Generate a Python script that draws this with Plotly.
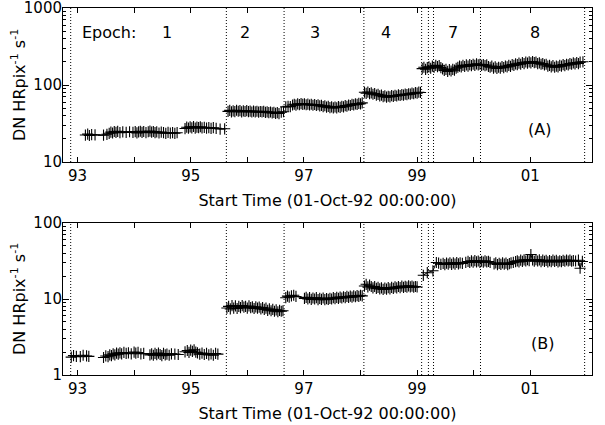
import plotly.graph_objects as go

# ---------------- data (years since 1900, count rates) ----------------
# Panel A
a1a_t = [93.14,93.18,93.21,93.25,93.31,93.46,93.52,93.56,93.59,93.62,93.65,93.68,93.71,93.75,93.80,93.86,93.92,93.98,94.02,94.05,
         94.08,94.11,94.14,94.17,94.21,94.25,94.28,94.31,94.34,94.37,94.40,94.44,94.48,94.52,94.56,94.60,94.64,94.68,94.72,94.76]
a1a_v = [22.4,23.0,22.1,22.7,22.5,22.3,22.9,23.6,24.4,23.8,24.9,24.2,25.0,24.1,24.6,24.3,24.7,24.2,24.8,23.9,
         24.6,25.1,24.3,24.9,24.0,24.7,25.2,24.4,24.9,24.1,24.6,23.8,24.4,24.0,23.6,24.2,23.7,24.1,23.6,24.0]
a1b_t = [94.90,94.93,94.96,94.99,95.02,95.05,95.08,95.11,95.14,95.17,95.20,95.24,95.28,95.32,95.36,95.40,95.45,95.52,95.60]
a1b_v = [27.2,28.3,27.5,28.6,27.8,28.9,27.6,28.4,27.9,28.7,27.7,28.2,27.6,28.0,27.4,27.9,27.3,26.8,27.0]
a2_t = [95.66,95.69,95.72,95.75,95.78,95.81,95.84,95.87,95.90,95.93,95.96,95.99,96.02,96.05,96.08,96.11,96.14,
        96.17,96.20,96.23,96.26,96.29,96.32,96.35,96.38,96.41,96.44,96.47,96.50,96.53,96.56,96.60,96.64]
a2_v = [45.5,46.8,44.9,46.2,45.1,47.0,45.6,46.5,44.8,46.0,45.3,46.4,45.0,45.9,44.6,45.8,44.9,
        45.6,44.4,45.3,44.7,45.5,44.2,44.9,43.8,44.6,43.5,44.2,42.8,43.9,42.6,44.3,45.0]
a3_t = [96.68,96.72,96.76,96.80,96.83,96.86,96.89,96.92,96.95,96.98,97.01,97.04,97.07,97.10,97.13,97.16,97.19,97.22,97.25,97.28,
        97.31,97.34,97.37,97.40,97.43,97.46,97.49,97.52,97.55,97.58,97.61,97.64,97.67,97.70,97.73,97.76,97.79,97.82,97.85,97.88,
        97.91,97.94,97.97,98.00,98.03]
a3_v = [52.0,53.0,52.4,55.0,56.2,54.8,56.8,55.6,57.2,56.0,57.0,55.4,56.5,55.0,56.2,54.6,55.8,54.2,55.4,53.6,
        54.5,52.4,53.8,51.6,52.8,50.8,52.0,50.4,51.8,50.6,52.4,51.2,53.0,52.0,54.0,53.0,55.0,54.2,56.0,55.2,
        56.8,56.0,57.6,57.0,58.6]
a4_t = [98.07,98.10,98.13,98.16,98.19,98.22,98.25,98.28,98.31,98.34,98.37,98.40,98.43,98.46,98.49,98.52,98.55,
        98.58,98.61,98.64,98.67,98.70,98.73,98.76,98.79,98.82,98.85,98.88,98.91,98.94,98.97,99.00,99.03,99.06]
a4_v = [80.5,78.0,81.0,77.2,79.0,75.8,77.6,74.0,75.6,72.4,73.8,70.6,72.2,69.6,71.4,70.2,72.6,
        71.0,73.2,72.0,74.4,73.0,75.2,74.0,76.2,75.0,77.0,76.2,78.4,77.0,79.4,78.2,80.6,80.0]
a5_t = [99.09,99.12,99.15,99.18,99.21,99.24,99.27,99.30,99.33,99.36,99.39,99.42,99.45,99.48,99.51,99.54,99.57,99.60,99.63,99.66,
        99.69,99.72,99.75,99.78,99.81,99.84,99.87,99.90,99.93,99.96,99.99,100.02,100.05,100.08,100.11,100.14,100.17,100.20,100.23,100.26,
        100.29,100.32,100.35,100.38,100.41,100.44,100.47,100.50,100.53,100.56,100.59,100.62,100.65,100.68,100.71,100.74,100.77,100.80,100.83,100.86,
        100.89,100.92,100.95,100.98,101.01,101.04,101.07,101.10,101.13,101.16,101.19,101.22,101.25,101.28,101.31,101.34,101.37,101.40,101.43,101.46,
        101.49,101.52,101.55,101.58,101.61,101.64,101.67,101.70,101.73,101.76,101.79,101.82,101.85,101.88,101.93]
a5_v = [163,170,160,168,172,165,176,170,180,173,178,168,162,155,160,150,158,152,160,156,
        165,170,176,172,180,174,182,176,184,178,186,180,188,182,186,180,184,178,182,174,
        170,176,166,172,164,170,166,174,168,176,172,180,175,184,180,188,184,192,186,196,
        190,199,192,200,194,202,195,198,190,194,186,190,182,186,176,180,172,178,170,176,
        172,180,176,184,178,186,182,190,186,194,188,196,190,198,200]

# Panel B
b1a_t = [92.89,92.93,92.98,93.05,93.10,93.16,93.20]
b1a_v = [1.72,1.80,1.76,1.74,1.82,1.78,1.76]
b1b_t = [93.46,93.50,93.54,93.57,93.60,93.63,93.66,93.69,93.72,93.75,93.78,93.82,93.86,93.90,93.95,94.00,94.03,94.07,94.12,94.17,
         94.28,94.31,94.34,94.37,94.40,94.43,94.46,94.49,94.52,94.55,94.58,94.62,94.66,94.72,94.78]
b1b_v = [1.70,1.78,1.74,1.84,1.80,1.90,1.84,1.94,1.88,1.96,1.90,1.98,1.92,1.95,1.90,2.00,1.94,1.98,1.90,1.92,
         1.84,1.90,1.82,1.92,1.85,1.94,1.86,1.80,1.92,1.84,1.88,1.82,1.90,1.88,1.86]
b1c_t = [94.90,94.94,94.97,95.00,95.03,95.06,95.09,95.12,95.16,95.20,95.24,95.28,95.32,95.36,95.40,95.44,95.48]
b1c_v = [2.02,2.10,1.98,2.12,2.04,2.14,2.00,1.96,1.88,1.94,1.86,1.92,1.84,1.90,1.82,1.92,1.88]
b2_t = [95.64,95.67,95.70,95.73,95.76,95.79,95.82,95.85,95.88,95.91,95.94,95.97,96.00,96.03,96.06,96.09,96.12,
        96.15,96.18,96.21,96.24,96.27,96.30,96.33,96.36,96.39,96.42,96.45,96.48,96.51,96.54,96.57,96.60,96.63]
b2_v = [7.6,8.0,7.4,8.2,7.6,8.1,7.5,8.0,7.7,8.2,7.8,8.0,7.6,8.1,7.7,7.9,7.5,
        7.9,7.6,7.8,7.4,7.7,7.3,7.6,7.1,7.4,7.0,7.3,6.9,7.2,6.8,7.1,6.9,7.0]
b3_t = [96.68,96.71,96.74,96.78,96.82,96.86,97.01,97.04,97.07,97.10,97.13,97.16,97.19,97.22,97.25,97.28,97.31,97.34,97.37,97.40,
        97.43,97.46,97.49,97.52,97.55,97.58,97.61,97.64,97.67,97.70,97.73,97.76,97.79,97.82,97.85,97.88,97.91,97.94,97.97,98.00,98.03]
b3_v = [10.4,10.9,10.6,11.0,11.2,10.8,10.2,10.5,10.0,10.4,9.9,10.3,10.0,10.4,9.8,10.2,9.9,10.3,9.8,10.1,
        9.9,10.2,10.0,10.4,10.1,10.5,10.2,10.6,10.3,10.7,10.4,10.8,10.5,10.9,10.6,11.0,10.7,11.1,10.8,11.2,11.0]
b4_t = [98.07,98.10,98.13,98.16,98.19,98.22,98.25,98.28,98.31,98.34,98.37,98.40,98.43,98.46,98.49,98.52,
        98.55,98.58,98.61,98.64,98.67,98.70,98.73,98.76,98.79,98.82,98.85,98.88,98.91,98.94,98.97,99.00]
b4_v = [14.8,15.6,14.4,15.2,14.6,14.0,14.6,13.8,14.2,13.6,14.0,13.4,13.9,13.5,14.1,13.6,
        14.2,13.8,14.4,14.0,14.6,14.1,14.8,14.2,14.7,14.3,14.9,14.4,14.8,14.3,14.6,14.4]
b5_t = [99.11,99.18,99.28,99.34,99.38,99.42,99.46,99.49,99.52,99.55,99.58,99.61,99.64,99.67,99.70,99.73,99.76,99.80,
        99.86,99.90,99.93,99.96,99.99,100.02,100.05,100.08,100.11,100.14,100.17,100.20,100.23,100.26,100.29,
        100.36,100.39,100.42,100.45,100.48,100.51,100.54,100.57,100.60,100.63,100.66,100.70,100.74,100.77,100.80,100.83,100.86,
        100.89,100.92,100.95,100.98,101.01,101.04,101.07,101.10,101.13,101.16,101.19,101.22,101.25,101.28,101.31,101.34,
        101.37,101.40,101.43,101.46,101.49,101.52,101.55,101.58,101.61,101.64,101.67,101.70,101.73,101.76,101.80,101.85,101.88,101.92]
b5_v = [20.5,22.2,23.5,30.2,29.6,28.6,29.4,28.4,29.6,28.8,30.0,28.6,29.8,28.8,30.2,29.0,29.8,29.4,
        30.4,31.2,30.2,31.8,30.6,32.0,30.8,31.6,30.4,31.4,30.6,31.8,30.8,31.2,30.4,
        29.0,29.8,28.4,29.4,28.6,29.8,28.8,29.6,28.4,29.2,29.8,30.4,31.0,31.8,30.8,32.4,31.2,
        32.8,31.6,33.0,32.0,38.5,32.6,31.4,33.0,31.6,32.8,31.0,32.4,31.2,32.2,30.8,32.0,
        31.0,32.4,31.2,32.2,30.8,31.8,31.0,32.2,31.4,32.6,31.6,32.4,31.4,32.0,31.6,32.4,25.4,31.2]

epoch_bounds = [92.88, 95.63, 96.65, 98.06, 99.08, 99.20, 99.29, 100.12, 101.96]
epoch_labels = ["1", "2", "3", "4", "7", "8"]
year_ticks = [93, 95, 97, 99, 101]
year_labels = ["93", "95", "97", "99", "01"]
year_minor = [94, 96, 98, 100]
a_yticks = [10, 100, 1000]
a_ylabels = ["10", "100", "1000"]
b_yticks = [1, 10, 100]
b_ylabels = ["1", "10", "100"]
x_title = "Start Time (01-Oct-92 00:00:00)"
y_title = "DN HRpix<sup>-1</sup> s<sup>-1</sup>"

# ---------------- layout constants ----------------
FONT = "DejaVu Sans"
W, H = 605, 425
ML, MR, MT, MB = 63, 13, 8, 50
plot_h = H - MT - MB
plot_w = W - ML - MR
def dom(top_px, bot_px):
    return [(H - MB - bot_px) / plot_h, (H - MB - top_px) / plot_h]

epoch_label_x = [94.58, 95.96, 97.20, 98.45, 99.64, 101.08]


def join(segs):
    xs, ys = [], []
    for t, v in segs:
        if xs:
            xs.append(None); ys.append(None)
        xs += t; ys += v
    return xs, ys

ax_, ay_ = join([(a1a_t, a1a_v), (a1b_t, a1b_v), (a2_t, a2_v), (a3_t, a3_v), (a4_t, a4_v), (a5_t, a5_v)])
bx_, by_ = join([(b1a_t, b1a_v), (b1b_t, b1b_v), (b1c_t, b1c_v), (b2_t, b2_v), (b3_t, b3_v), (b4_t, b4_v), (b5_t, b5_v)])

fig = go.Figure()
mk = dict(symbol="cross-thin", size=8, color="black", line=dict(color="black", width=1.1))
fig.add_trace(go.Scatter(x=ax_, y=ay_, mode="lines+markers", marker=mk, hoverinfo="skip",
                         line=dict(color="black", width=1), xaxis="x", yaxis="y", showlegend=False))
fig.add_trace(go.Scatter(x=bx_, y=by_, mode="lines+markers", marker=mk, hoverinfo="skip",
                         line=dict(color="black", width=1), xaxis="x2", yaxis="y2", showlegend=False))

xr = [92.744, 102.09]
xcommon = dict(range=xr, tickmode="array", tickvals=year_ticks, ticktext=year_labels, automargin=False,
               ticks="inside", ticklen=5, tickcolor="black", showline=True, linecolor="black",
               linewidth=1, mirror="allticks", showgrid=False, zeroline=False, ticklabelstandoff=0,
               ticklabeloverflow="allow",
               minor=dict(tickmode="array", tickvals=year_minor, ticks="inside", ticklen=5, tickcolor="black", showgrid=False),
               tickfont=dict(family=FONT, size=15, color="black"),
               title=dict(text=x_title, font=dict(family=FONT, size=16, color="black"), standoff=10))

def minor_vals(decades):
    out = []
    for d in decades:
        out += [d * k for k in range(2, 10)]
    return out

ycommon = dict(type="log", ticks="inside", ticklen=6, tickcolor="black", showline=True, linecolor="black",
               linewidth=1, mirror="allticks", showgrid=False, zeroline=False, tickmode="array", automargin=False,
               ticklabelstandoff=-3, ticklabeloverflow="allow",
               tickfont=dict(family=FONT, size=15, color="black"))

fig.update_layout(
    width=W, height=H, margin=dict(l=ML, r=MR, t=MT, b=MB, autoexpand=False),
    paper_bgcolor="white", plot_bgcolor="white", hovermode=False,
    font=dict(family=FONT, color="black"),
    xaxis=dict(**xcommon, domain=[0, 1], anchor="y"),
    yaxis=dict(**ycommon, range=[1, 3], tickvals=a_yticks, ticktext=a_ylabels, domain=dom(8, 162), anchor="x",
               minor=dict(tickmode="array", tickvals=minor_vals([10, 100]), ticks="inside", ticklen=3, tickcolor="black", showgrid=False)),
    xaxis2=dict(**xcommon, domain=[0, 1], anchor="y2"),
    yaxis2=dict(**ycommon, range=[0, 2], tickvals=b_yticks, ticktext=b_ylabels, domain=dom(223, 375), anchor="x2",
                minor=dict(tickmode="array", tickvals=minor_vals([1, 10]), ticks="inside", ticklen=3, tickcolor="black", showgrid=False)),
)

shapes = []
for xb in epoch_bounds:
    for yr, xr_ in (("y domain", "x"), ("y2 domain", "x2")):
        shapes.append(dict(type="line", xref=xr_, yref=yr, x0=xb, x1=xb, y0=0, y1=1,
                           line=dict(color="black", width=1, dash="1px,2px")))
fig.update_layout(shapes=shapes)

ytitle_x = (18 - ML) / plot_w
ann = [dict(text="Epoch:", x=93.04, y=0.838, xref="x", yref="y domain", xanchor="left", yanchor="middle",
            showarrow=False, font=dict(family=FONT, size=16, color="black"))]
for lab, lx in zip(epoch_labels, epoch_label_x):
    ann.append(dict(text=lab, x=lx, y=0.838, xref="x", yref="y domain", xanchor="center", yanchor="middle",
                    showarrow=False, font=dict(family=FONT, size=16, color="black")))
ann.append(dict(text="(A)", x=101.17, y=0.21, xref="x", yref="y domain", showarrow=False,
                xanchor="center", yanchor="middle", font=dict(family=FONT, size=16, color="black")))
ann.append(dict(text="(B)", x=101.21, y=0.21, xref="x2", yref="y2 domain", showarrow=False,
                xanchor="center", yanchor="middle", font=dict(family=FONT, size=16, color="black")))
for yd in ("y domain", "y2 domain"):
    ann.append(dict(text=y_title, x=ytitle_x, y=0.5, xref="paper", yref=yd, textangle=-90,
                    xanchor="center", yanchor="middle", showarrow=False,
                    font=dict(family=FONT, size=16, color="black")))
fig.update_layout(annotations=ann)

fig.write_html("out.html", config={"displayModeBar": False, "staticPlot": True},
               post_script="document.body.style.margin='0';")
